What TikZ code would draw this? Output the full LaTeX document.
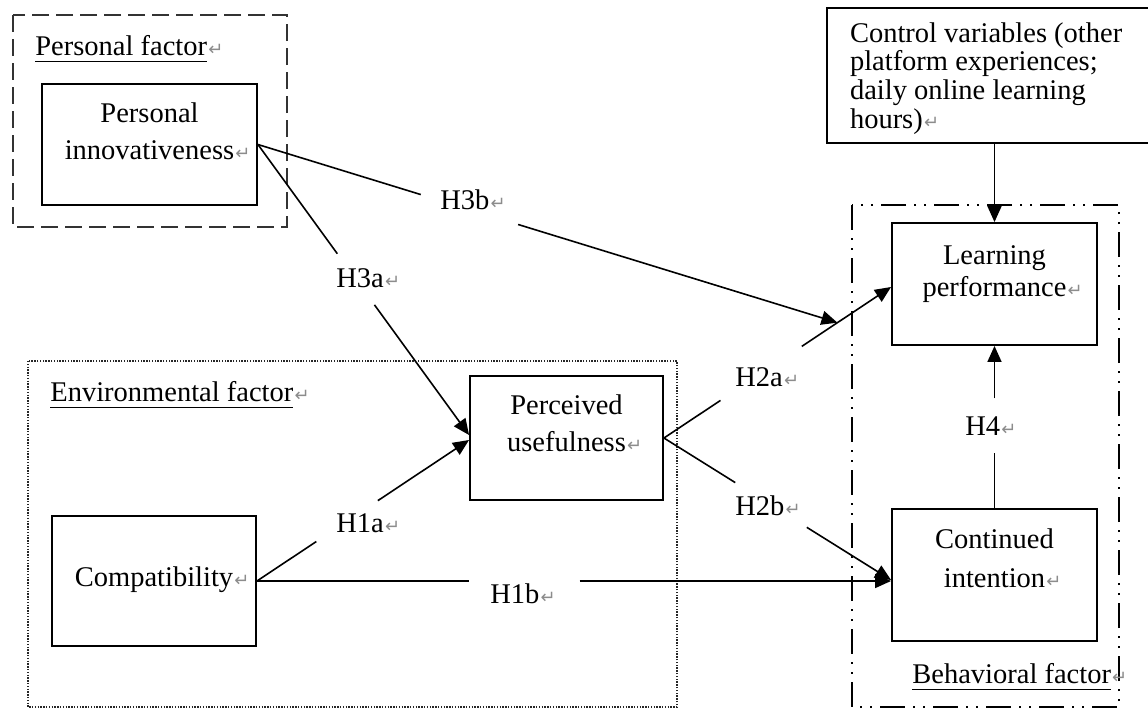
\documentclass[tikz,border=0pt]{standalone}
\usepackage{fontspec}
\setmainfont{Liberation Serif}
\newfontfamily\symfont{DejaVu Sans}
\usetikzlibrary{arrows.meta,calc}
\newcommand{\pmark}{\rlap{\hspace{0.6pt}\textcolor{black!45}{\fontsize{9}{9}\symfont ↵}}}
\newcommand{\ulx}[1]{\underline{#1\vrule width 0pt depth 1.6pt}}
% width, height, first baseline from top, line spacing, text
\newcommand{\boxtxt}[5]{\parbox[c][#2][t]{#1}{\centering\fontsize{14.25}{#4}\selectfont\rule{0pt}{#3}#5}}
\begin{document}
\begin{tikzpicture}[x=0.5pt,y=-0.5pt,
  every node/.style={font=\fontsize{14.25}{17}\selectfont},
  box/.style={draw, line width=0.95pt, inner sep=0pt, fill=white},
  lab/.style={inner sep=0pt, anchor=base west},
  conn/.style={line width=0.8pt},
  arr/.style={line width=0.8pt, -{Triangle[length=8pt,width=7pt]}},
  personalframe/.style={draw=black!80, line width=1.4pt, dash pattern=on 8.5pt off 3.5pt},
  envframe/.style={draw=black!85, line width=0.75pt, dash pattern=on 0.7pt off 0.7pt},
  behframe/.style={draw=black, line width=1pt, dash pattern=on 12.5pt off 4pt on 1pt off 4pt on 1pt off 4pt}]
\useasboundingbox (0,0) rectangle (1148,709);

% frames
\draw[personalframe] (13,15) rectangle (287,227);
\draw[envframe] (28,361) rectangle (677,707);
\draw[behframe] (852,205) rectangle (1119,707);

% frame labels
\node[lab] (pflab) at (35,55) {\ulx{Personal factor}\pmark};
\node[lab] (eflab) at (50,401) {\ulx{Environmental factor}\pmark};
\node[lab] (bflab) at (912,683) {\ulx{Behavioral factor}\pmark};

% boxes
\node[box] (pi) at (149.5,144.5) {\boxtxt{107.5pt}{60.5pt}{19pt}{18.5pt}{Personal\\innovativeness\pmark}};
\node[box] (pu) at (566.5,438) {\boxtxt{96.5pt}{62pt}{19pt}{18.5pt}{Perceived\\usefulness\pmark}};
\node[box] (comp) at (154,581) {\boxtxt{102pt}{65pt}{35pt}{18.5pt}{Compatibility\pmark}};
\node[box] (lp) at (994.5,284) {\boxtxt{102.5pt}{61pt}{20.5pt}{16pt}{Learning\\performance\pmark}};
\node[box] (ci) at (994.5,575) {\boxtxt{102.5pt}{66pt}{19.5pt}{19.5pt}{Continued\\intention\pmark}};
\node[box] (ctrl) at (989.5,75.5) {\parbox[c][67.5pt][t]{162.5pt}{\raggedright\leftskip=11.5pt\fontsize{14.25}{14.35}\selectfont\rule{0pt}{17pt}Control variables (other\\platform experiences;\\daily online learning\\hours)\pmark}};

% hypothesis labels
\node[lab] (l3b) at (440,209) {H3b\pmark};
\node[lab] (l3a) at (336,287) {H3a\pmark};
\node[lab] (l1a) at (336,532) {H1a\pmark};
\node[lab] (l1b) at (490,603) {H1b\pmark};
\node[lab] (l2a) at (735,386) {H2a\pmark};
\node[lab] (l2b) at (735,515) {H2b\pmark};
\node[lab] (l4)  at (965,435) {H4\pmark};

% end points
\coordinate (lpin) at ([yshift=-1.5pt]lp.west);
\coordinate (puin3a) at ([yshift=1.5pt]pu.west);
\coordinate (puin1a) at ([yshift=-1pt]pu.west);
\coordinate (ciin1b) at ([yshift=-3pt]ci.west);
\coordinate (ciin2b) at ([yshift=-2.5pt]ci.west);
\coordinate (h3btip) at ($(pu.east)!0.764!(lpin)$);

% H3b
\path (pi.east) -- coordinate[pos=0.281] (h3b1) coordinate[pos=0.449] (h3b2) (h3btip);
\draw[conn] (pi.east) -- (h3b1);
\draw[arr] (h3b2) -- (h3btip);
% H3a
\path (pi.east) -- coordinate[pos=0.376] (h3a1) coordinate[pos=0.552] (h3a2) (puin3a);
\draw[conn] (pi.east) -- (h3a1);
\draw[arr] (h3a2) -- (puin3a);
% H1a
\path (comp.east) -- coordinate[pos=0.280] (h1a1) coordinate[pos=0.570] (h1a2) (puin1a);
\draw[conn] (comp.east) -- (h1a1);
\draw[arr] (h1a2) -- (puin1a);
% H1b
\path (comp.east) -- coordinate[pos=0.335] (h1b1) coordinate[pos=0.509] (h1b2) (ciin1b);
\draw[conn] (comp.east) -- (h1b1);
\draw[arr] (h1b2) -- (ciin1b);
% H2a
\path (pu.east) -- coordinate[pos=0.249] (h2a1) coordinate[pos=0.607] (h2a2) (lpin);
\draw[conn] (pu.east) -- (h2a1);
\draw[arr] (h2a2) -- (lpin);
% H2b
\path (pu.east) -- coordinate[pos=0.314] (h2b1) coordinate[pos=0.629] (h2b2) (ciin2b);
\draw[conn] (pu.east) -- (h2b1);
\draw[arr] (h2b2) -- (ciin2b);
% H4
\path (ci.north) -- coordinate[pos=0.341] (h41) coordinate[pos=0.677] (h42) (lp.south);
\draw[conn] (ci.north) -- (h41);
\draw[arr] (h42) -- (lp.south);
% control
\draw[arr] (lp.north |- ctrl.south) -- (lp.north);
\end{tikzpicture}
\end{document}
